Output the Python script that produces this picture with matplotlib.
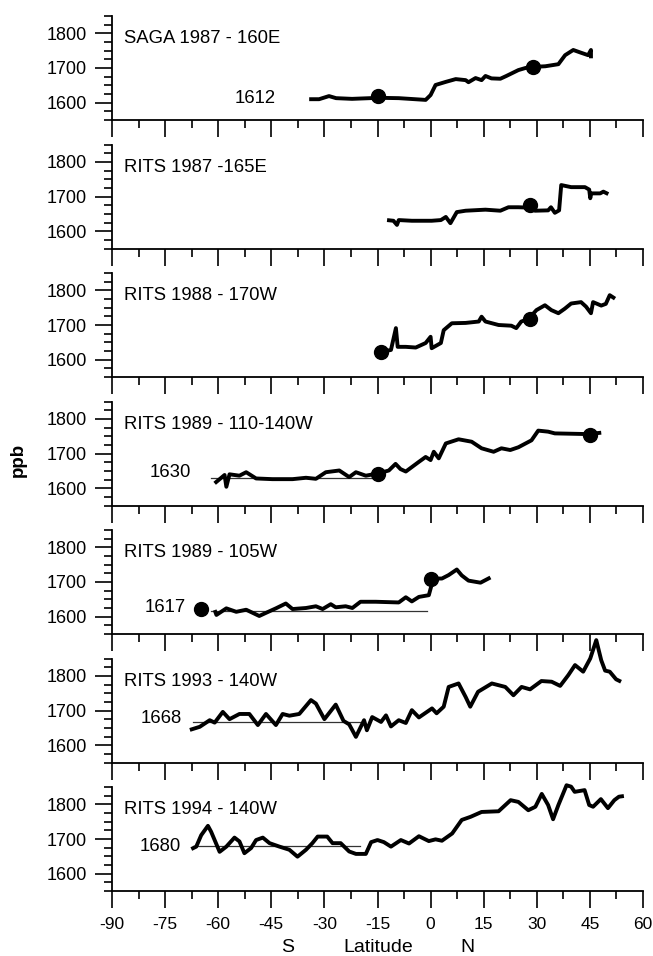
import matplotlib
matplotlib.use("Agg")
import matplotlib.pyplot as plt
from matplotlib.ticker import MultipleLocator
import numpy as np

plt.rcParams['font.family'] = ['Liberation Sans', 'DejaVu Sans']

titles = ["SAGA 1987 - 160E", "RITS 1987 -165E", "RITS 1988 - 170W",
          "RITS 1989 - 110-140W", "RITS 1989 - 105W", "RITS 1993 - 140W",
          "RITS 1994 - 140W"]

# ---- series (latitude, CH4 ppb) ----
lat1 = [-34.3, -31.5, -28.7, -26.7, -22.2, -14.6, -9.0, -1.4, 0.0, 1.4, 4.3, 7.1, 9.9, 10.7, 12.7,
        14.4, 15.5, 17.2, 19.7, 21.4, 24.8, 26.8, 28.5, 32.4, 36.1, 38.0, 40.3, 42.5, 44.5, 45.3, 45.3]
ch4_1 = [1610, 1610, 1619, 1613, 1611, 1614, 1613, 1608, 1622, 1651, 1660, 1668, 1665, 1659, 1671,
         1665, 1677, 1670, 1669, 1677, 1694, 1700, 1703, 1705, 1711, 1737, 1752, 1744, 1737, 1752, 1728]

lat2 = [-12.3, -10.5, -9.5, -9.0, -5.3, 0.3, 2.9, 4.3, 5.6, 7.4, 9.9, 15.5, 19.7, 22.0, 24.8, 27.6,
        29.5, 33.2, 34.0, 35.1, 36.3, 36.9, 39.7, 43.6, 44.8, 45.1, 45.4, 47.9, 48.8, 50.2]
ch4_2 = [1632, 1630, 1618, 1632, 1630, 1630, 1632, 1641, 1623, 1655, 1659, 1662, 1659, 1669, 1669, 1668,
         1659, 1660, 1669, 1653, 1660, 1733, 1727, 1727, 1720, 1695, 1709, 1709, 1714, 1707]

lat3 = [-13.7, -11.2, -9.8, -9.3, -7.0, -4.2, -1.4, 0.0, 0.3, 2.9, 3.7, 6.0, 9.9, 13.6, 14.4, 15.5,
        19.2, 22.8, 24.2, 25.6, 27.6, 29.9, 32.3, 34.1, 36.1, 37.9, 39.7, 42.5, 43.9, 45.3, 45.9,
        48.2, 49.5, 50.6, 52.1]
ch4_3 = [1623, 1628, 1691, 1637, 1637, 1635, 1648, 1666, 1633, 1648, 1685, 1705, 1706, 1710, 1724, 1710,
         1700, 1698, 1691, 1710, 1717, 1743, 1757, 1743, 1734, 1747, 1762, 1766, 1753, 1734, 1766,
         1756, 1761, 1786, 1776]

lat4 = [-61.0, -58.2, -57.7, -56.8, -54.0, -52.1, -49.3, -44.7, -39.0, -35.2, -32.4, -29.6, -25.8,
        -23.0, -21.1, -18.3, -14.6, -11.8, -9.9, -8.5, -7.0, -3.3, -1.4, 0.0, 0.9, 2.3, 4.3, 7.9, 11.6,
        14.4, 17.8, 20.0, 22.5, 24.8, 28.5, 30.4, 33.2, 35.1, 44.5, 48.2]
ch4_4 = [1614, 1638, 1604, 1640, 1636, 1646, 1628, 1626, 1626, 1630, 1627, 1646, 1651,
         1632, 1646, 1636, 1643, 1651, 1670, 1655, 1648, 1676, 1690, 1681, 1705, 1686, 1729, 1741, 1734,
         1715, 1705, 1715, 1710, 1718, 1738, 1766, 1763, 1758, 1756, 1760]

lat5 = [-61.0, -60.5, -57.7, -54.9, -52.1, -48.4, -46.5, -43.7, -40.9, -39.0, -35.2, -32.4, -30.5,
        -28.2, -26.8, -24.0, -22.1, -19.8, -15.5, -9.0, -7.0, -5.3, -3.3, -0.5, 0.4, -0.3, 3.2, 5.1,
        7.4, 8.8, 10.7, 14.1, 16.9]
ch4_5 = [1619, 1605, 1624, 1614, 1620, 1602, 1611, 1624, 1638, 1622, 1625, 1630, 1622,
         1636, 1627, 1630, 1625, 1643, 1643, 1641, 1656, 1644, 1657, 1662, 1696, 1710, 1710, 1720,
         1736, 1719, 1704, 1698, 1713]

lat6 = [-68.0, -65.2, -62.4, -61.0, -58.7, -56.8, -54.0, -51.2, -48.8, -46.5, -43.7, -41.8, -39.9,
        -37.1, -33.8, -32.4, -30.0, -26.8, -24.6, -23.0, -21.1, -18.8, -18.0, -16.5, -14.0, -12.6,
        -11.2, -9.0, -7.0, -5.3, -3.3, 0.4, 1.7, 3.7, 5.1, 7.9, 9.9, 11.2, 13.4, 17.3, 21.1, 23.4, 25.7,
        28.1, 31.3, 34.2, 36.6, 38.9, 40.8, 43.1, 45.1, 46.8, 48.2, 49.3, 50.6, 52.4, 53.8]
ch4_6 = [1644, 1653, 1672, 1665, 1696, 1675, 1690, 1690, 1658, 1690, 1658, 1690, 1685,
         1690, 1730, 1720, 1675, 1717, 1670, 1660, 1624, 1672, 1643, 1681, 1667, 1686,
         1654, 1672, 1664, 1701, 1680, 1706, 1692, 1711, 1768, 1778, 1739, 1711, 1754, 1778, 1768, 1744, 1768,
         1761, 1785, 1783, 1771, 1802, 1831, 1812, 1850, 1903, 1845, 1815, 1812, 1790, 1783]

lat7 = [-67.6, -66.2, -64.8, -62.9, -62.0, -59.6, -57.7, -55.4, -54.0, -52.6, -50.7, -49.3, -47.4,
        -45.5, -42.7, -39.9, -37.6, -35.2, -33.4, -31.9, -29.2, -27.7, -25.4, -23.0, -21.1, -18.3,
        -16.8, -15.0, -13.2, -11.2, -8.4, -6.1, -3.3, -0.5, 1.4, 3.2, 6.1, 8.8, 11.3, 14.4, 19.2, 22.6,
        24.8, 27.6, 29.6, 31.4, 33.2, 34.6, 36.1, 38.4, 39.7, 40.7, 43.5, 44.8, 45.9, 48.1, 50.1, 51.9,
        53.2, 54.6]
ch4_7 = [1671, 1678, 1711, 1738, 1721, 1663, 1678, 1704, 1693, 1659, 1674, 1697, 1704,
         1688, 1678, 1669, 1649, 1669, 1688, 1707, 1707, 1688, 1688, 1664, 1657, 1657,
         1691, 1697, 1691, 1678, 1697, 1687, 1708, 1694, 1699, 1695, 1716, 1755, 1764, 1778, 1780, 1812,
         1807, 1783, 1793, 1830, 1798, 1757, 1798, 1855, 1851, 1836, 1841, 1798, 1793, 1815, 1789, 1812,
         1822, 1824]

lats = [lat1, lat2, lat3, lat4, lat5, lat6, lat7]
ch4s = [ch4_1, ch4_2, ch4_3, ch4_4, ch4_5, ch4_6, ch4_7]

# flask sample dots (lat, ppb) per panel
dots_lat = [[-15, 29], [28], [-14, 28], [-15, 45], [-65, 0], [], []]
dots_ch4 = [[1620, 1702], [1676], [1622, 1716], [1641, 1754], [1621, 1708], [], []]

# southern-hemisphere mean values: (label value, lat start, lat end)
ref_vals = [1612, None, None, 1630, 1617, 1668, 1680]
ref_start = [None, None, None, -62, -62, -67, -67]
ref_end = [None, None, None, -15, -1, -20, -20]

xticks = [-90, -75, -60, -45, -30, -15, 0, 15, 30, 45, 60]

W, H = 653, 956
fig = plt.figure(figsize=(W / 100, H / 100), dpi=100)

left_px, right_px = 112, 643
bottoms_px = [120, 248.5, 377, 505.5, 634, 762.5, 891]
height_px = 104

for i in range(7):
    b = bottoms_px[i]
    ax = fig.add_axes([left_px / W, 1 - b / H, (right_px - left_px) / W, height_px / H])
    ax.set_xlim(-90, 60)
    ax.set_ylim(1550, 1850)
    for s in ['top', 'right']:
        ax.spines[s].set_visible(False)
    ax.spines['left'].set_linewidth(1.3)
    ax.spines['bottom'].set_linewidth(1.3)
    ax.xaxis.set_major_locator(MultipleLocator(15))
    ax.xaxis.set_minor_locator(MultipleLocator(7.5))
    ax.yaxis.set_major_locator(MultipleLocator(100))
    ax.yaxis.set_minor_locator(MultipleLocator(25))
    ax.set_yticks([1600, 1700, 1800])
    ax.tick_params(axis='both', which='major', direction='out', length=12, width=1.2,
                   labelsize=13)
    ax.tick_params(axis='both', which='minor', direction='out', length=5.5, width=1.2)
    ax.tick_params(axis='y', which='major', pad=6)
    if i < 6:
        ax.tick_params(axis='x', labelbottom=False)
    else:
        ax.set_xticks(xticks)
        ax.set_xticklabels([str(v) for v in xticks])
        ax.tick_params(axis='x', pad=7, labelsize=12.5)

    ax.plot(lats[i], ch4s[i], color='black', lw=2.8, solid_joinstyle='round',
            solid_capstyle='butt', clip_on=False, zorder=3)
    if dots_lat[i]:
        ax.plot(dots_lat[i], dots_ch4[i], 'o', color='black', ms=10, zorder=4, clip_on=False)
    if ref_vals[i] is not None:
        if ref_start[i] is not None:
            ax.plot([ref_start[i], ref_end[i]], [ref_vals[i], ref_vals[i]], color='#333333',
                    lw=0.9, zorder=2)
    ax.text(0.022, 0.78, titles[i], transform=ax.transAxes, fontsize=13.3,
            ha='left', va='center')

# value labels
lbl_x = [-49.5, None, None, -73.5, -75, -76, -76.5]
lbl_y = [1612, None, None, 1646, 1625, 1678, 1677]
for i in range(7):
    if ref_vals[i] is not None:
        ax_i = fig.axes[i]
        ax_i.text(lbl_x[i], lbl_y[i], str(ref_vals[i]), fontsize=13.3, ha='center', va='center')

fig.text(18 / W, 1 - 460 / H, "ppb", rotation=90, fontsize=13.5, fontweight='bold',
         ha='center', va='center')
fig.text(288 / W, 1 - 947 / H, "S", fontsize=14, ha='center', va='center')
fig.text(378 / W, 1 - 947 / H, "Latitude", fontsize=14, ha='center', va='center')
fig.text(467 / W, 1 - 947 / H, "N", fontsize=14, ha='center', va='center')

fig.savefig("out.png", dpi=100)
